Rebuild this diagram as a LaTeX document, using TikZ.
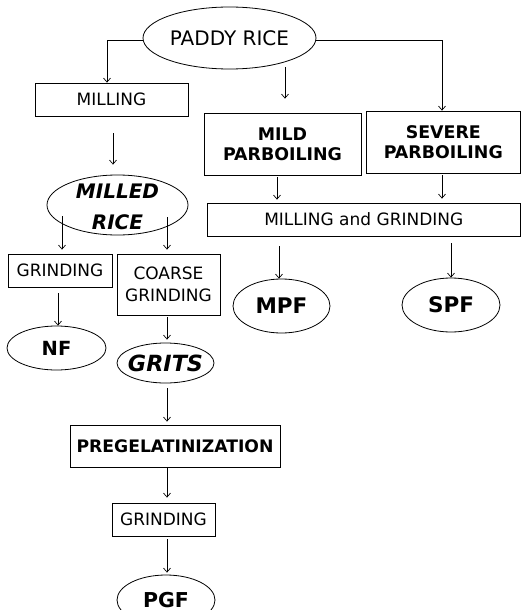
\documentclass[tikz,border=0pt]{standalone}
\usepackage{fontspec}
\setmainfont{DejaVu Sans}
\usetikzlibrary{shapes.geometric,arrows.meta}
\begin{document}
\begin{tikzpicture}[x=1pt,y=-1pt,
  box/.style={draw, rectangle, line width=0.8pt, inner sep=0pt, align=center},
  oval/.style={draw, ellipse, line width=0.8pt, inner sep=0pt},
  arr/.style={-{Straight Barb[length=4pt,width=7pt]}, line width=0.7pt},
  fr/.style={font=\fontsize{17}{20}\selectfont},
  fb/.style={font=\fontsize{17.4}{20}\selectfont\bfseries}]
\useasboundingbox (0,0) rectangle (521,610);
\clip (0,0) rectangle (521,610);
% nodes
\node[oval, minimum width=173pt, minimum height=62pt,
  label={[font=\fontsize{20}{24}\selectfont]center:PADDY RICE}] (paddy) at (229.5,38) {};
\node[box, fr, minimum width=153pt, minimum height=33pt] (milling) at (111.5,99.5) {MILLING};
\node[box, fb, minimum width=157pt, minimum height=62pt] (mild) at (282.5,144) {MILD\\PARBOILING};
\node[box, fb, minimum width=154.6pt, minimum height=62pt] (severe) at (443.3,142) {SEVERE\\PARBOILING};
\node[oval, minimum width=141pt, minimum height=60pt,
  label={[font=\fontsize{20}{31}\selectfont\bfseries\itshape, align=center, yshift=-2pt]center:MILLED\\RICE}] (milled) at (117.5,205) {};
\node[box, fr, minimum width=313.6pt, minimum height=33pt] (mag) at (363.8,219.5) {MILLING and GRINDING};
\node[box, fr, minimum width=104pt, minimum height=33pt] (grind1) at (60,270.5) {GRINDING};
\node[box, font=\fontsize{17}{21.7}\selectfont, minimum width=103pt, minimum height=61pt] (coarse) at (168.5,284.5) {COARSE\\GRINDING};
\node[oval, minimum width=97pt, minimum height=54pt,
  label={[font=\fontsize{21.5}{26}\selectfont\bfseries]center:MPF}] (mpf) at (281.5,306) {};
\node[oval, minimum width=98pt, minimum height=54pt,
  label={[font=\fontsize{21.5}{26}\selectfont\bfseries]center:SPF}] (spf) at (451,305) {};
\node[oval, minimum width=99pt, minimum height=44pt,
  label={[font=\fontsize{19.5}{24}\selectfont\bfseries]center:NF}] (nf) at (56.5,348) {};
\node[oval, minimum width=97pt, minimum height=40pt,
  label={[font=\fontsize{22.3}{26}\selectfont\bfseries\itshape]center:GRITS}] (grits) at (165.5,363) {};
\node[box, font=\fontsize{17.2}{21}\selectfont\bfseries, minimum width=210pt, minimum height=42pt] (pregel) at (175,446) {PREGELATINIZATION};
\node[box, fr, minimum width=103pt, minimum height=33pt] (grind2) at (163.5,519.5) {GRINDING};
\node[oval, minimum width=98pt, minimum height=50pt,
  label={[font=\fontsize{20.5}{25}\selectfont\bfseries]center:PGF}] (pgf) at (166,600) {};
% connector start points
\coordinate (pl) at (143,40);
\coordinate (pr) at (316,40);
\coordinate (s3) at (285,67);
\coordinate (s4) at (113,133);
\coordinate (s5) at (277,177);
\coordinate (s6) at (442,175);
\coordinate (s7) at (62,216);
\coordinate (s8) at (167,217);
\coordinate (s9) at (279,246);
\coordinate (s10) at (451,243);
\coordinate (s11) at (58,293);
\coordinate (s12) at (167,317);
\coordinate (s13) at (167,388);
\coordinate (s14) at (167,467);
\coordinate (s15) at (167,539);
% connectors
\draw[arr] (pl) -| ([xshift=-4.5pt]milling.north);
\draw[arr] (pr) -| ([xshift=-1.3pt]severe.north);
\draw[arr, shorten >=14pt] (s3) -- (s3 |- mild.north);
\draw[arr, shorten >=10pt] (s4) -- (s4 |- milled.north);
\draw[arr, shorten >=3pt] (s5) -- (s5 |- mag.north);
\draw[arr, shorten >=4pt] (s6) -- (s6 |- mag.north);
\draw[arr, shorten >=4pt] (s7) -- (s7 |- grind1.north);
\draw[arr, shorten >=4pt] (s8) -- (s8 |- coarse.north);
\draw[arr] (s9) -- (s9 |- mpf.north);
\draw[arr] (s10) -- (s10 |- spf.north);
\draw[arr] (s11) -- (s11 |- nf.north);
\draw[arr, shorten >=3pt] (s12) -- (s12 |- grits.north);
\draw[arr, shorten >=3pt] (s13) -- (s13 |- pregel.north);
\draw[arr, shorten >=5pt] (s14) -- (s14 |- grind2.north);
\draw[arr, shorten >=2pt] (s15) -- (s15 |- pgf.north);
\end{tikzpicture}
\end{document}
